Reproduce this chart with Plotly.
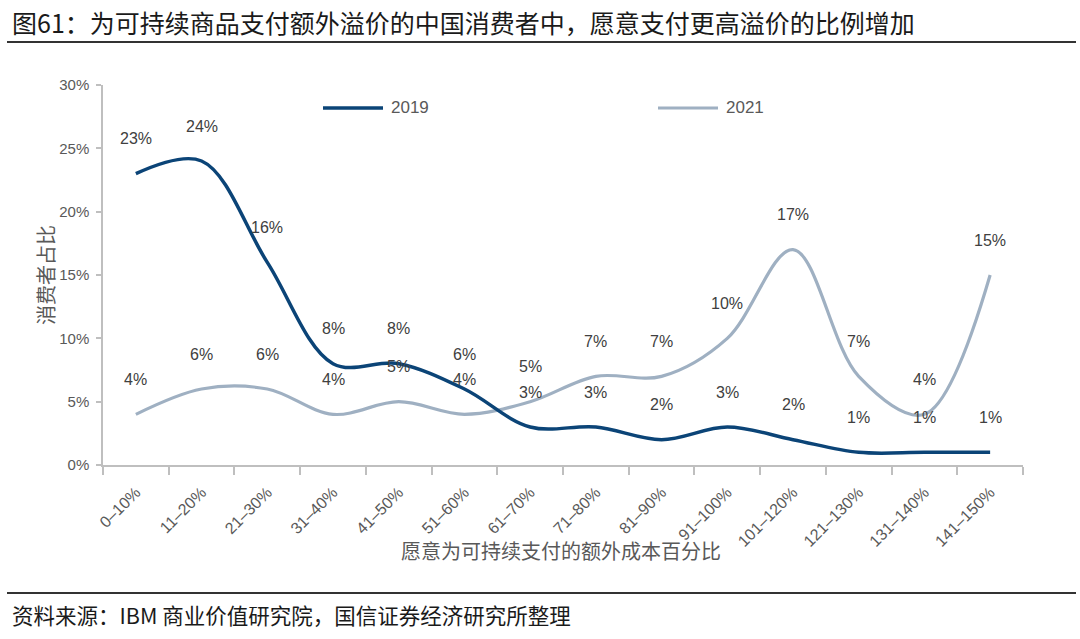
import plotly.graph_objects as go

categories = ["0–10%", "11–20%", "21–30%", "31–40%", "41–50%", "51–60%", "61–70%",
              "71–80%", "81–90%", "91–100%", "101–120%", "121–130%", "131–140%", "141–150%"]
values_2019 = [23, 24, 16, 8, 8, 6, 3, 3, 2, 3, 2, 1, 1, 1]
values_2021 = [4, 6, 6, 4, 5, 4, 5, 7, 7, 10, 17, 7, 4, 15]
y_ticks = [0, 5, 10, 15, 20, 25, 30]
y_tick_text = ["0%", "5%", "10%", "15%", "20%", "25%", "30%"]

C2019 = "#0b4477"
C2021 = "#9fb0c2"
TXT = "#595959"
LAB = "#404040"
FONT = "Noto Sans CJK SC"
NUMF = "Liberation Sans"

W, H = 1080, 639
L, R, T, B = 103, 1023, 85, 465  # plot area in reference pixels
def px(x):
    return (x - L) / (R - L)
def py(y):
    return (B - y) / (B - T)

fig = go.Figure()
fig.add_trace(go.Scatter(x=categories, y=values_2021, mode="lines", name="2021",
                         line=dict(color=C2021, width=3.2, shape="spline", smoothing=1)))
fig.add_trace(go.Scatter(x=categories, y=values_2019, mode="lines", name="2019",
                         line=dict(color=C2019, width=3.5, shape="spline", smoothing=1)))

annotations = []
for series in (values_2019, values_2021):
    for c, v in zip(categories, series):
        annotations.append(dict(x=c, y=v, xref="x", yref="y", text=f"{v}%", showarrow=False,
                                yshift=35, font=dict(family=NUMF, size=16, color=LAB)))

annotations += [
    dict(x=px(10), y=py(22), xref="paper", yref="paper", xanchor="left", yanchor="middle",
         text="图61：为可持续商品支付额外溢价的中国消费者中，愿意支付更高溢价的比例增加",
         showarrow=False, font=dict(family=FONT, size=25, color="#1a1a1a")),
    dict(x=px(10), y=py(614), xref="paper", yref="paper", xanchor="left", yanchor="middle",
         text="资料来源：IBM 商业价值研究院，国信证券经济研究所整理",
         showarrow=False, font=dict(family=FONT, size=21.5, color="#1a1a1a")),
    dict(x=px(45), y=py(275), xref="paper", yref="paper", xanchor="center", yanchor="middle",
         text="消费者占比", textangle=-90, showarrow=False,
         font=dict(family=FONT, size=20, color=TXT)),
    dict(x=px(561), y=py(550), xref="paper", yref="paper", xanchor="center", yanchor="middle",
         text="愿意为可持续支付的额外成本百分比", showarrow=False,
         font=dict(family=FONT, size=20, color=TXT)),
    dict(x=px(389), y=py(108), xref="paper", yref="paper", xanchor="left", yanchor="middle",
         text="2019", showarrow=False, font=dict(family=NUMF, size=17, color=TXT)),
    dict(x=px(724), y=py(108), xref="paper", yref="paper", xanchor="left", yanchor="middle",
         text="2021", showarrow=False, font=dict(family=NUMF, size=17, color=TXT)),
]

shapes = [
    dict(type="line", xref="paper", yref="paper", x0=px(7), x1=px(1076), y0=py(42), y1=py(42),
         line=dict(color="#333333", width=2)),
    dict(type="line", xref="paper", yref="paper", x0=px(7), x1=px(1076), y0=py(593), y1=py(593),
         line=dict(color="#333333", width=2)),
    dict(type="line", xref="paper", yref="paper", x0=px(323), x1=px(383), y0=py(108), y1=py(108),
         line=dict(color=C2019, width=3.5)),
    dict(type="line", xref="paper", yref="paper", x0=px(658), x1=px(718), y0=py(108), y1=py(108),
         line=dict(color=C2021, width=3.2)),
]

fig.update_layout(
    width=W, height=H,
    margin=dict(l=L, r=W - R, t=T, b=H - B, autoexpand=False),
    paper_bgcolor="white", plot_bgcolor="white",
    showlegend=False, hovermode=False,
    annotations=annotations, shapes=shapes,
    xaxis=dict(type="category", categoryorder="array", categoryarray=categories,
               range=[-0.5, len(categories) - 0.5], tickson="boundaries",
               ticks="outside", ticklen=8, tickcolor="#bfbfbf", tickwidth=1.5,
               ticklabelstandoff=10,
               showline=True, linecolor="#bfbfbf", linewidth=1.5, showgrid=False,
               tickangle=-45, tickfont=dict(family=NUMF, size=16, color=TXT), automargin=False),
    yaxis=dict(range=[0, 30], tickmode="array", tickvals=y_ticks, ticktext=y_tick_text,
               ticks="outside", ticklen=5, tickcolor="#bfbfbf", tickwidth=1.5,
               ticklabelstandoff=4,
               showline=True, linecolor="#bfbfbf", linewidth=1.5, showgrid=False, zeroline=False,
               tickfont=dict(family=NUMF, size=15, color=TXT), automargin=False),
)

fig.write_html("out.html", config={"displayModeBar": False},
               post_script="document.body.style.margin='0';document.body.style.overflow='hidden';")
